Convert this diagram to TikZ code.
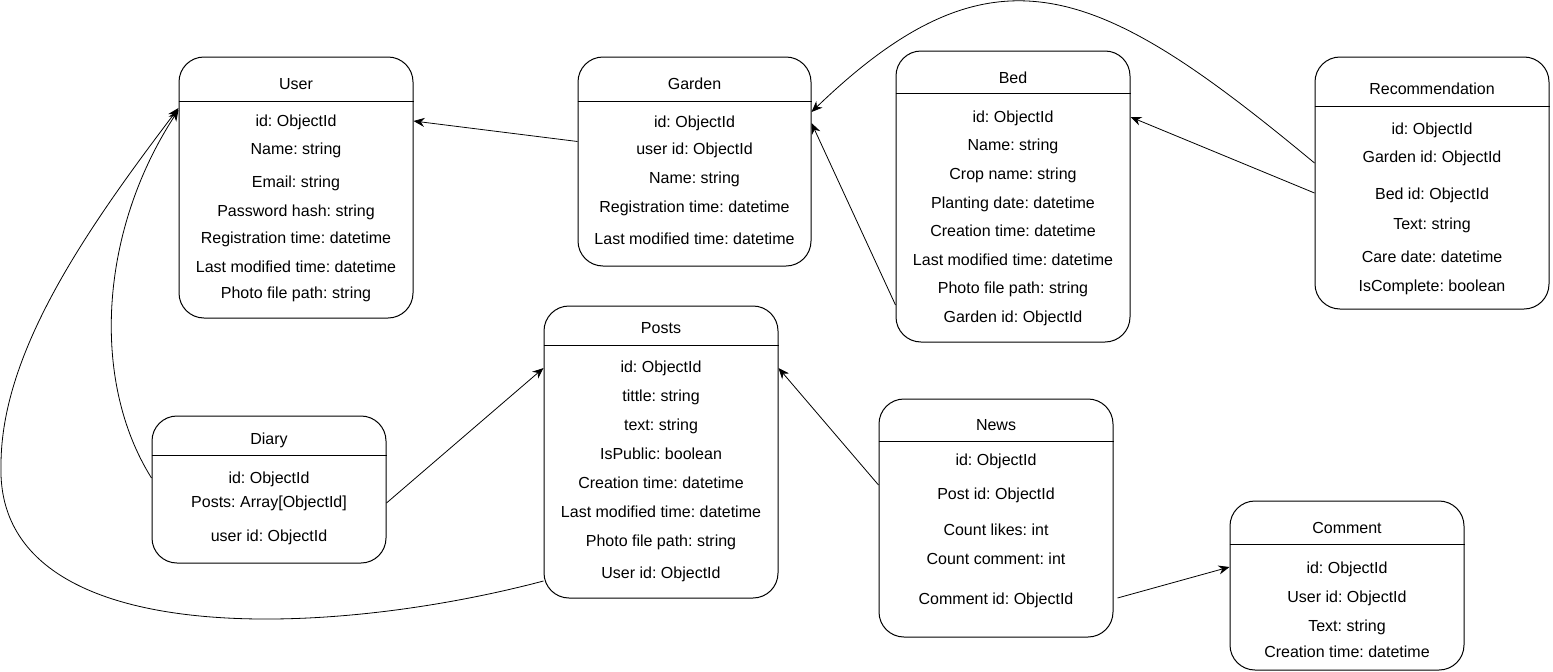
\documentclass[tikz,border=0pt]{standalone}
\usepackage{fontspec}
\setmainfont{Liberation Sans}
\usetikzlibrary{arrows.meta}
\frenchspacing

\begin{document}
\begin{tikzpicture}[x=1pt,y=-1pt,line width=1pt,font=\fontsize{16}{19}\selectfont]
	\tikzset{entity/.style={draw,rounded corners=25pt,inner sep=0pt,minimum width=234pt},
		field/.style={inner sep=0pt,text height=11.5pt,text depth=3.5pt,yshift=-1.5pt},
		link/.style={-{Stealth[length=11pt,width=9pt]},line width=0.8pt}}
	
	% Fix the page size
	\useasboundingbox (0,0) rectangle (1553,672);
	
	% User table
	\node[entity,minimum height=261pt] (user) at (296,187.5) {};
	\draw (user.west |- 0,101) -- (user.east |- 0,101);
	\node[field] (user-title) at (296,84) {User};
	\foreach \y/\t [count=\i] in {121/{id: ObjectId},149/{Name: string},182/{Email: string},
		211/{Password hash: string},238/{Registration time: datetime},
		267/{Last modified time: datetime},293/{Photo file path: string}}
	{
		\node[field] (user-\i) at (296,\y) {\t};
	}
	
	% Garden table
	\node[entity,minimum width=233pt,minimum height=209pt] (garden) at (694.5,161.5) {};
	\draw (garden.west |- 0,101) -- (garden.east |- 0,101);
	\node[field] (garden-title) at (694.5,84) {Garden};
	\foreach \y/\t [count=\i] in {122/{id: ObjectId},149/{user id: ObjectId},178/{Name: string},
		207/{Registration time: datetime},239/{Last modified time: datetime}}
	{
		\node[field] (garden-\i) at (694.5,\y) {\t};
	}
	
	% Bed table
	\node[entity,minimum height=291pt] (bed) at (1013,196.5) {};
	\draw (bed.west |- 0,93.5) -- (bed.east |- 0,93.5);
	\node[field] (bed-title) at (1013,78) {Bed};
	\foreach \y/\t [count=\i] in {117/{id: ObjectId},145/{Name: string},174/{Crop name: string},
		203/{Planting date: datetime},231/{Creation time: datetime},
		260/{Last modified time: datetime},288/{Photo file path: string},317/{Garden id: ObjectId}}
	{
		\node[field] (bed-\i) at (1013,\y) {\t};
	}
	
	% Recommendation table
	\node[entity,minimum height=252pt] (rec) at (1432,183) {};
	\draw (rec.west |- 0,106) -- (rec.east |- 0,106);
	\node[field] (rec-title) at (1432,89) {Recommendation};
	\foreach \y/\t [count=\i] in {129/{id: ObjectId},157/{Garden id: ObjectId},194/{Bed id: ObjectId},
		224/{Text: string},257/{Care date: datetime},286/{IsComplete: boolean}}
	{
		\node[field] (rec-\i) at (1432,\y) {\t};
	}
	
	% Posts table
	\node[entity,minimum height=292pt] (posts) at (661,452) {};
	\draw (posts.west |- 0,345) -- (posts.east |- 0,345);
	\node[field] (posts-title) at (661,328) {Posts};
	\foreach \y/\t [count=\i] in {367/{id: ObjectId},396/{tittle: string},425/{text: string},
		454/{IsPublic: boolean},483/{Creation time: datetime},
		512/{Last modified time: datetime},541/{Photo file path: string},573/{User id: ObjectId}}
	{
		\node[field] (posts-\i) at (661,\y) {\t};
	}
	
	% Diary table
	\node[entity,minimum height=147pt] (diary) at (269,489.5) {};
	\draw (diary.west |- 0,455) -- (diary.east |- 0,455);
	\node[field] (diary-title) at (269,439) {Diary};
	\foreach \y/\t [count=\i] in {478/{id: ObjectId},502/{Posts: Array[ObjectId]},536/{user id: ObjectId}}
	{
		\node[field] (diary-\i) at (269,\y) {\t};
	}
	
	% News table
	\node[entity,minimum height=238pt] (news) at (996,518) {};
	\draw (news.west |- 0,441) -- (news.east |- 0,441);
	\node[field] (news-title) at (996,425) {News};
	\foreach \y/\t [count=\i] in {460/{id: ObjectId},494/{Post id: ObjectId},530/{Count likes: int},
		559/{Count comment: int},599/{Comment id: ObjectId}}
	{
		\node[field] (news-\i) at (996,\y) {\t};
	}
	
	% Comment table
	\node[entity,minimum height=169pt] (comment) at (1347,585.5) {};
	\draw (comment.west |- 0,544) -- (comment.east |- 0,544);
	\node[field] (comment-title) at (1347,528) {Comment};
	\foreach \y/\t [count=\i] in {568/{id: ObjectId},597/{User id: ObjectId},626/{Text: string},
		652/{Creation time: datetime}}
	{
		\node[field] (comment-\i) at (1347,\y) {\t};
	}
	
	% Links between tables
	\coordinate (bend) at (1,465);
	\draw[link] ([yshift=20pt]garden.west) -- ([yshift=66.5pt]user.east);
	\draw[link] ([yshift=-108.5pt]bed.west) -- ([yshift=38.5pt]garden.east);
	\draw[link] ([yshift=20pt]rec.west) .. controls (1100,-15) and (995,-65) .. ([yshift=49.5pt]garden.east);
	\draw[link] ([yshift=-10pt]rec.west) -- ([yshift=79.5pt]bed.east);
	\draw[link] ([yshift=11.5pt]diary.west) .. controls (90,380) and (100,230) .. ([yshift=77.5pt]user.west);
	\draw[link] ([yshift=-129pt]posts.west) .. controls (320,640) and (-5,650) .. (bend)
		.. controls (1,350) and (90,225) .. ([yshift=79.5pt]user.west);
	\draw[link] ([yshift=-13.5pt]diary.east) -- ([yshift=84pt]posts.west);
	\draw[link] ([yshift=33pt]news.west) -- ([yshift=84pt]posts.east);
	\draw[link] ([xshift=4pt,yshift=-80pt]news.east) -- ([yshift=18.5pt]comment.west);
	
\end{tikzpicture}
\end{document}
